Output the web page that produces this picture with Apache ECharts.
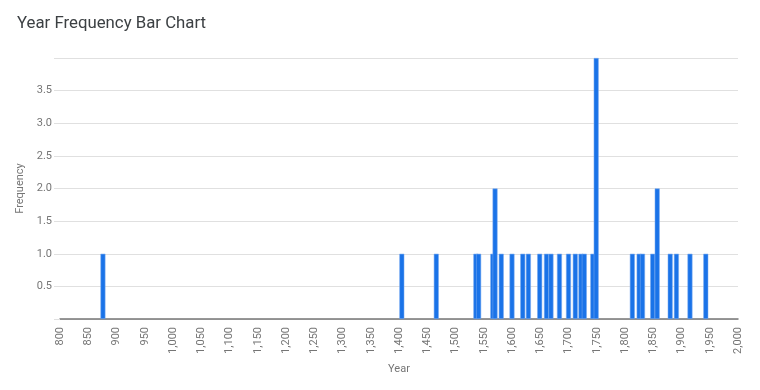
<!DOCTYPE html>
<html>
<head>
<meta charset="utf-8">
<script src="https://cdn.jsdelivr.net/npm/echarts@6/dist/echarts.min.js"></script>
<style>
html,body{margin:0;padding:0;background:#fff;}
#chart{width:760px;height:390px;}
</style>
</head>
<body>
<div id="chart"></div>
<script>
const chartTitle = 'Year Frequency Bar Chart';
const xAxisName = 'Year';
const yAxisName = 'Frequency';
const years  = [876, 1405, 1466, 1536, 1541, 1566, 1570, 1581, 1600, 1619, 1629, 1649, 1661, 1669, 1684, 1700, 1712, 1722, 1728, 1743, 1749, 1813, 1825, 1831, 1849, 1857, 1880, 1891, 1915, 1943];
const counts = [1,   1,    1,    1,    1,    1,    2,    1,    1,    1,    1,    1,    1,    1,    1,    1,    1,    1,    1,    1,    4,    1,    1,    1,    1,    2,    1,    1,    1,    1];
const xMin = 800, xMax = 2000, xStep = 50;
const yMin = 0, yMax = 4, yStep = 0.5;

const seriesData = years.map((y, i) => [y, counts[i]]);
const labelColor = '#757575';
const fontFam = 'Roboto, "Noto Sans", Arial, sans-serif';

const chart = echarts.init(document.getElementById('chart'), null, {renderer: 'canvas'});
chart.setOption({
  animation: false,
  backgroundColor: '#fff',
  title: {
    text: chartTitle,
    left: 17, top: 15, padding: 0,
    textStyle: {fontFamily: fontFam, fontSize: 16.8, fontWeight: 'normal', color: '#3c4043'}
  },
  grid: {left: 60, right: 22, top: 58, bottom: 71, containLabel: false},
  xAxis: {
    type: 'value',
    min: xMin, max: xMax, interval: xStep,
    name: xAxisName, nameLocation: 'middle', nameGap: 45,
    nameTextStyle: {fontFamily: fontFam, fontSize: 11, color: labelColor},
    axisLine: {show: true, lineStyle: {color: '#757575', width: 1.5}},
    axisTick: {show: false},
    splitLine: {show: false},
    axisLabel: {
      rotate: 90, margin: 8, fontFamily: fontFam, fontSize: 11, color: labelColor,
      formatter: v => v.toLocaleString('en-US')
    }
  },
  yAxis: {
    type: 'value',
    min: yMin, max: yMax, interval: yStep,
    name: yAxisName, nameLocation: 'middle', nameGap: 29,
    nameTextStyle: {fontFamily: fontFam, fontSize: 11, color: labelColor},
    axisLine: {show: false},
    axisTick: {show: true, length: 6, lineStyle: {color: '#e0e0e0'}},
    splitLine: {show: true, lineStyle: {color: '#e0e0e0', width: 1}},
    axisLabel: {
      margin: 8, fontFamily: fontFam, fontSize: 11, color: labelColor,
      formatter: v => (v === yMin || v === yMax) ? '' : v.toFixed(1)
    }
  },
  series: [{
    type: 'bar',
    data: seriesData,
    barWidth: 5,
    barGap: '-100%',
    itemStyle: {color: '#1a73e8', borderColor: 'rgba(120,170,240,0.9)', borderWidth: 0.6}
  }]
});
</script>
</body>
</html>
